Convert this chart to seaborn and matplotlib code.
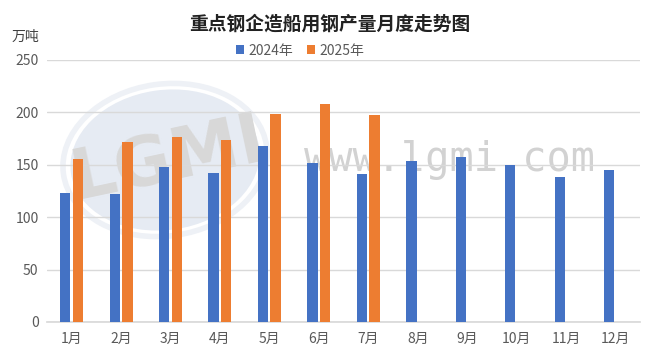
import matplotlib
matplotlib.use("Agg")
import matplotlib.pyplot as plt
from matplotlib.patches import Ellipse
import seaborn as sns
import pandas as pd
import numpy as np

months = ["1月", "2月", "3月", "4月", "5月", "6月", "7月", "8月", "9月", "10月", "11月", "12月"]
series_names = ["2024年", "2025年"]
values_2024 = [123.5, 122, 147.5, 142.5, 168, 152, 141, 154, 157, 150, 138, 145]
values_2025 = [155, 172, 176, 174, 198, 208, 197, None, None, None, None, None]
colors = ["#4472C4", "#ED7D31"]
title = "重点钢企造船用钢产量月度走势图"
unit = "万吨"
yticks = [0, 50, 100, 150, 200, 250]

df = pd.DataFrame({
    "month": months * 2,
    "series": [series_names[0]] * len(months) + [series_names[1]] * len(months),
    "value": [np.nan if v is None else v for v in values_2024 + values_2025],
})

sns.set_theme(style="white")
plt.rcParams["font.family"] = ["Noto Sans CJK SC", "DejaVu Sans"]

fig = plt.figure(figsize=(6.6, 3.63), dpi=100)
ax = fig.add_axes([0.071, 0.113, 0.899, 0.722])

# faint watermark
wm = fig.add_axes([0, 0, 1, 1], zorder=-1)
wm.set_xlim(0, 660); wm.set_ylim(363, 0); wm.axis("off")
wm.add_patch(Ellipse((165, 160), 190, 140, angle=-8, facecolor="#E6EBF3", edgecolor="none"))
wm.add_patch(Ellipse((165, 160), 205, 152, angle=-8, facecolor="none", edgecolor="#EEF1F6", lw=4))
wm.text(168, 160, "LGMI", fontsize=50, color="#D8D8D8", ha="center", va="center",
        rotation=12, fontweight="bold", family="DejaVu Sans")
wm.text(450, 160, "www.lgmi.com", fontsize=29, color="#D2D2D2", ha="center",
        va="center", family="DejaVu Sans Mono")
ax.set_facecolor("none")
ax.patch.set_alpha(0)

sns.barplot(data=df, x="month", y="value", hue="series", order=months,
            hue_order=series_names, palette=colors, width=0.51, gap=0.18,
            saturation=1, ax=ax, legend=True, zorder=3, linewidth=0, edgecolor="none")

ax.set_ylim(0, 250)
ax.set_yticks(yticks)
ax.set_xlim(-0.5, 11.5)
ax.yaxis.grid(True, color="#D9D9D9", lw=1, zorder=0)
ax.set_axisbelow(True)
for s in ["top", "right", "left"]:
    ax.spines[s].set_visible(False)
ax.spines["bottom"].set_color("#D9D9D9")
ax.set_xlabel("")
ax.set_ylabel("")
ax.tick_params(axis="both", length=0, labelsize=10, colors="#595959")
ax.tick_params(axis="x", pad=7)
ax.tick_params(axis="y", pad=6)

leg = ax.legend(loc="center", bbox_to_anchor=(0.427, 1.035), ncol=2, frameon=False,
                fontsize=10, handlelength=0.6, handleheight=0.6, handletextpad=0.3,
                columnspacing=1.0, borderaxespad=0, borderpad=0)
for t in leg.get_texts():
    t.set_color("#595959")

fig.text(0.5, 0.933, title, ha="center", va="center", fontsize=13.5, fontweight="bold",
         color="#222222")
fig.text(0.018, 0.898, unit, ha="left", va="center", fontsize=10, color="#404040")

fig.savefig("out.png", dpi=100)
